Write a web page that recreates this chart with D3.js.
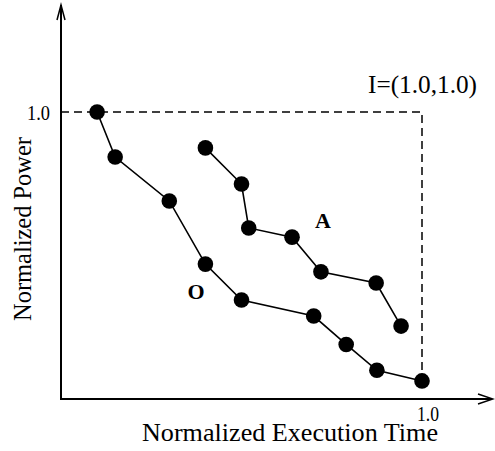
<!DOCTYPE html>
<html><head><meta charset="utf-8">
<script src="https://cdn.jsdelivr.net/npm/d3@7/dist/d3.min.js"></script>
<style>body{margin:0;background:#fff}svg{display:block}text{font-family:"Liberation Serif","Times New Roman",serif;fill:#000}</style>
</head><body>
<script>
const seriesO_x = [0.10, 0.15, 0.30, 0.40, 0.50, 0.70, 0.79, 0.875, 1.0];
const seriesO_y = [1.0, 0.843, 0.69, 0.47, 0.345, 0.289, 0.19, 0.10, 0.063];
const seriesA_x = [0.40, 0.50, 0.52, 0.64, 0.72, 0.873, 0.942];
const seriesA_y = [0.875, 0.749, 0.596, 0.564, 0.443, 0.404, 0.254];
const xTicks = [1.0];
const yTicks = [1.0];
const idealPoint = [1.0, 1.0];

const W = 495, H = 451;
const svg = d3.select("body").append("svg").attr("width", W).attr("height", H);
const x = d3.scaleLinear().domain([0, 1]).range([61, 422]);
const y = d3.scaleLinear().domain([0, 1]).range([399, 112]);

// axes
const ax = svg.append("g").attr("stroke", "#000").attr("stroke-width", 2).attr("fill", "none");
ax.append("line").attr("x1", x(0)).attr("y1", 400).attr("x2", x(0)).attr("y2", 5);
ax.append("line").attr("x1", x(0) - 1).attr("y1", y(0)).attr("x2", 492).attr("y2", y(0));
ax.append("path").attr("d", `M${x(0)-4},20 L${x(0)},5 L${x(0)+4},20`).attr("stroke-width", 1.5);
ax.append("path").attr("d", `M478,${y(0)-5} L493,${y(0)} L478,${y(0)+5}`).attr("stroke-width", 1.5);

// dashed box to ideal point
svg.append("path")
  .attr("d", `M${x(0)},${y(idealPoint[1])} L${x(idealPoint[0])},${y(idealPoint[1])} L${x(idealPoint[0])},${y(0.06)}`)
  .attr("fill", "none").attr("stroke", "#000").attr("stroke-width", 1.5).attr("stroke-dasharray", "8,5");

// tick labels
svg.selectAll(".yt").data(yTicks).enter().append("text")
  .attr("x", 27).attr("y", d => y(d)).attr("dy", "0.35em")
  .attr("font-size", 22).attr("textLength", 23).attr("lengthAdjust", "spacingAndGlyphs").text(d => d.toFixed(1));
svg.selectAll(".xt").data(xTicks).enter().append("text")
  .attr("x", d => x(d) - 5).attr("y", 421)
  .attr("font-size", 21).attr("textLength", 22).attr("lengthAdjust", "spacingAndGlyphs").text(d => d.toFixed(1));

svg.append("text").attr("x", 368).attr("y", 93).attr("font-size", 25)
  .attr("textLength", 109).attr("lengthAdjust", "spacingAndGlyphs").text("I=(1.0,1.0)");

// axis titles
svg.append("text").attr("x", 142).attr("y", 441).attr("font-size", 25)
  .attr("textLength", 296).attr("lengthAdjust", "spacingAndGlyphs").text("Normalized Execution Time");
svg.append("text").attr("transform", "translate(31,321) rotate(-90)").attr("font-size", 25)
  .attr("textLength", 184).attr("lengthAdjust", "spacingAndGlyphs").text("Normalized Power");

const line = d3.line().x(d => x(d[0])).y(d => y(d[1]));
function drawSeries(xs, ys) {
  const pts = xs.map((v, i) => [v, ys[i]]);
  svg.append("path").attr("d", line(pts)).attr("fill", "none").attr("stroke", "#000").attr("stroke-width", 1.6);
  svg.selectAll(null).data(pts).enter().append("circle")
    .attr("cx", d => x(d[0])).attr("cy", d => y(d[1])).attr("r", 7.8).attr("fill", "#000");
}
drawSeries(seriesO_x, seriesO_y);
drawSeries(seriesA_x, seriesA_y);

svg.append("text").attr("x", 323).attr("y", 228).attr("text-anchor", "middle").attr("font-size", 22).attr("font-weight", "bold").text("A");
svg.append("text").attr("x", 196).attr("y", 299).attr("text-anchor", "middle").attr("font-size", 22).attr("font-weight", "bold").text("O");
</script>
</body></html>
